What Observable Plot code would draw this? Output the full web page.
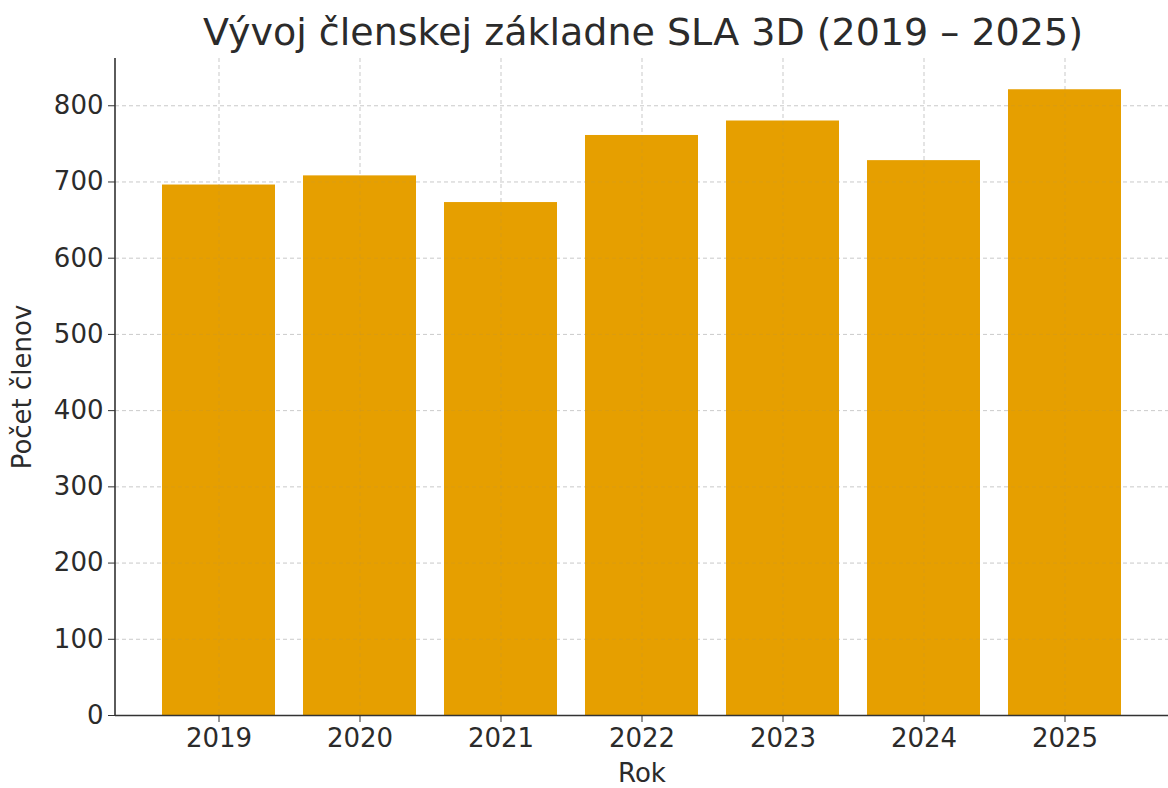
<!DOCTYPE html>
<html>
<head>
<meta charset="utf-8">
<script src="https://cdn.jsdelivr.net/npm/d3@7"></script>
<script src="https://cdn.jsdelivr.net/npm/@observablehq/plot@0.6"></script>
<style>
  body { margin: 0; background: #fff; font-family: "DejaVu Sans", sans-serif; }
  #title { height: 52px; line-height: 64px; font-size: 38px; color: #2b2b2b; text-align: center; padding-left: 118px; box-sizing: border-box; width: 1168px; white-space: nowrap; overflow: visible; }
</style>
</head>
<body>
<div id="title">Vývoj členskej základne SLA 3D (2019 – 2025)</div>
<div id="chart"></div>
<script>
const years = ["2019", "2020", "2021", "2022", "2023", "2024", "2025"];
const members = [696, 708, 673, 761, 780, 728, 821];
const yTicks = [0, 100, 200, 300, 400, 500, 600, 700, 800];
const data = years.map((y, i) => ({year: y, value: members[i]}));

const spineLeft = (index, scales, values, dims) => {
  const g = d3.create("svg:g");
  g.append("line")
    .attr("x1", dims.marginLeft).attr("x2", dims.marginLeft)
    .attr("y1", dims.marginTop).attr("y2", dims.height - dims.marginBottom)
    .attr("stroke", "#333").attr("stroke-width", 1.6);
  return g.node();
};

const chart = Plot.plot({
  width: 1168,
  height: 736,
  marginLeft: 115,
  marginRight: 0,
  marginTop: 6,
  marginBottom: 73,
  style: {fontFamily: "DejaVu Sans, sans-serif", color: "#2b2b2b", background: "#fff", overflow: "visible"},
  x: {domain: years, paddingInner: 0.2, paddingOuter: 0.31},
  y: {domain: [0, 862]},
  marks: [
    Plot.gridY(yTicks, {stroke: "#888", strokeOpacity: 0.35, strokeDasharray: "4,3", strokeWidth: 1}),
    Plot.gridX(years, {stroke: "#888", strokeOpacity: 0.35, strokeDasharray: "4,3", strokeWidth: 1}),
    Plot.barY(data, {x: "year", y: "value", fill: "#E69F00"}),
    Plot.gridY(yTicks, {stroke: "#888", strokeOpacity: 0.12, strokeDasharray: "4,3", strokeWidth: 1}),
    Plot.gridX(years, {stroke: "#888", strokeOpacity: 0.12, strokeDasharray: "4,3", strokeWidth: 1}),
    Plot.axisY(yTicks, {tickSize: 7, tickPadding: 5, fontSize: 26, stroke: "#333", label: "Počet členov", labelAnchor: "center", labelOffset: 103, labelArrow: "none"}),
    Plot.axisX({tickSize: 7, tickPadding: 6, fontSize: 26, stroke: "#333", label: "Rok", labelAnchor: "center", labelOffset: 66, labelArrow: "none"}),
    Plot.ruleY([0], {stroke: "#333", strokeWidth: 1.6}),
    spineLeft
  ]
});
document.getElementById("chart").appendChild(chart);
</script>
</body>
</html>
